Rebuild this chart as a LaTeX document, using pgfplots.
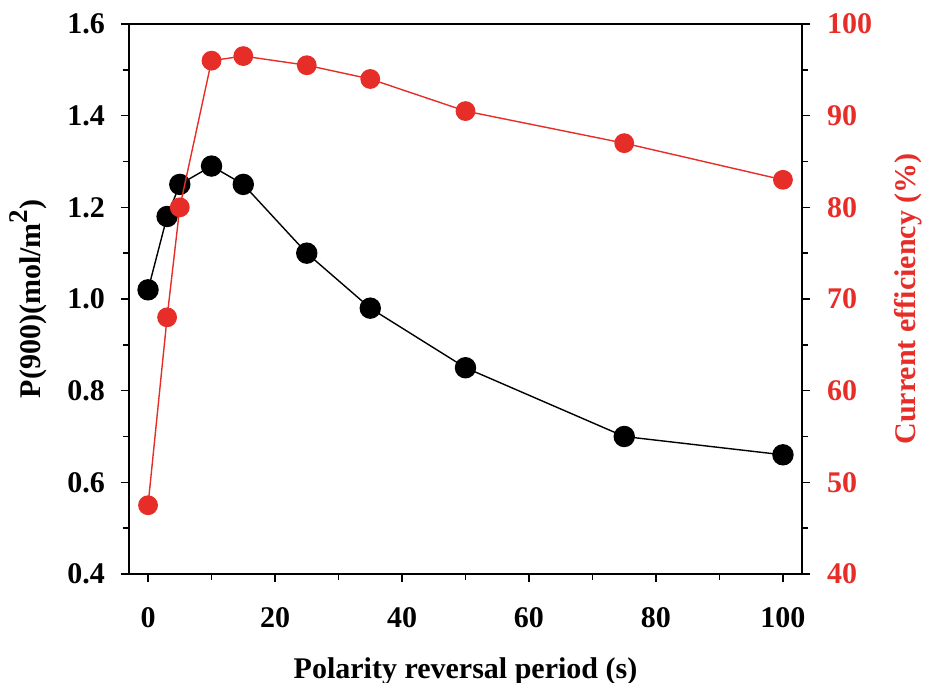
\documentclass[border=0pt]{standalone}
\usepackage{pgfplots}
\pgfplotsset{compat=1.18}
\usepackage{fontspec}
\setmainfont{Liberation Serif}
\definecolor{myred}{RGB}{230,45,40}
\begin{document}
\begin{tikzpicture}
\pgfplotsset{
  every axis/.append style={
    scale only axis, width=336.5pt, height=275pt,
    xmin=-3, xmax=103,
    font=\fontsize{15}{18}\selectfont\bfseries,
    tick label style={font=\fontsize{15}{18}\selectfont\bfseries},
    /pgf/number format/assume math mode=true,
    tick align=outside, major tick length=4pt, minor tick length=3pt,
    every tick/.style={black, line width=0.7pt},
    axis line style={line width=0.9pt},
  }
}
\begin{axis}[
  axis y line*=left,
  axis x line*=bottom,
  ymin=0.4, ymax=1.6,
  ytick={0.4,0.6,...,1.6},
  yticklabel style={xshift=-4.5pt, /pgf/number format/.cd, fixed, fixed zerofill, precision=1},
  xticklabel style={yshift=-9pt},
  minor y tick num=1,
  xtick={0,20,...,100},
  minor x tick num=1,
  xlabel={Polarity reversal period (s)},
  ylabel={P(900)(mol/m\raisebox{0.42em}{\fontsize{13.5}{14}\selectfont 2})},
  xlabel style={yshift=-8.5pt},
  ylabel style={yshift=3.5pt},
]
\coordinate (SW) at (rel axis cs:0,0);
\coordinate (NE) at (rel axis cs:1,1);
\addplot[black, line width=0.7pt, mark=*, mark size=5pt, mark options={fill=black}] coordinates {
(0,1.02) (3,1.18) (5,1.25) (10,1.29) (15,1.25) (25,1.10) (35,0.98) (50,0.85) (75,0.70) (100,0.66)};
\end{axis}
\begin{axis}[
  axis y line*=right,
  axis x line=none,
  ymin=40, ymax=100,
  ytick={40,50,...,100},
  minor y tick num=1,
  yticklabel style={text=myred, xshift=5pt},
  ylabel={Current efficiency (\%)},
  ylabel style={text=myred, yshift=-4.5pt},
]
\draw[black, line width=0.9pt] (rel axis cs:0,1) -- (rel axis cs:1,1);
\addplot[myred, line width=0.7pt, mark=*, mark size=4.6pt, mark options={fill=myred}] coordinates {
(0,47.5) (3,68) (5,80) (10,96) (15,96.5) (25,95.5) (35,94) (50,90.5) (75,87) (100,83)};
\end{axis}
\pgfresetboundingbox
\path[use as bounding box] ([xshift=-64.5pt,yshift=-54.5pt]SW) rectangle ([xshift=61.5pt,yshift=12pt]NE);
\end{tikzpicture}
\end{document}
